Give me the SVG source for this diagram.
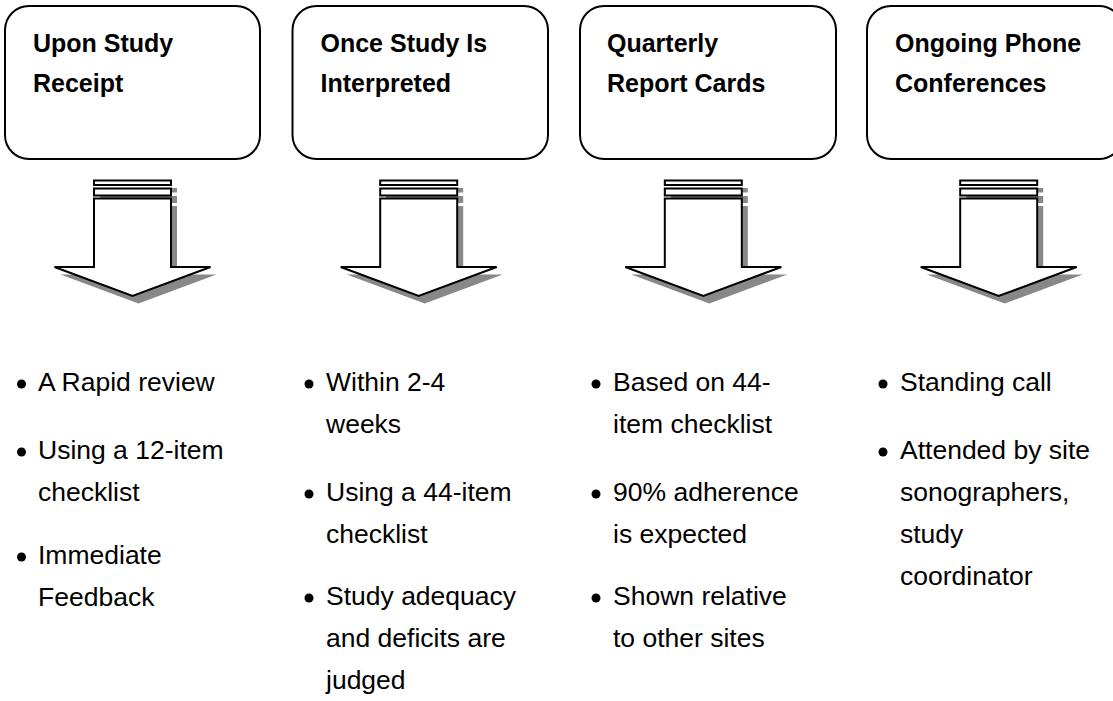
<svg xmlns="http://www.w3.org/2000/svg" width="1113" height="701" viewBox="0 0 1113 701">
<style>
.box{fill:#fff;stroke:#000;stroke-width:2}
.hd{font-family:"Liberation Sans",Arial,sans-serif;font-weight:bold;font-size:25px;fill:#000}
.bt{font-family:"Liberation Sans",Arial,sans-serif;font-size:26.5px;fill:#000}
.ar{fill:#fff;stroke:#000;stroke-width:2;stroke-linejoin:miter}
.sh{fill:#888}
</style>
<defs>
<filter id="soft" x="-10%" y="-10%" width="120%" height="130%">
<feGaussianBlur stdDeviation="0.7"/>
</filter>
<g id="arrowShape">
<rect x="-38.5" y="180.5" width="77" height="4.5"/>
<rect x="-38.5" y="188.5" width="77" height="7"/>
<polygon points="-38.5,198.5 38.5,198.5 38.5,267 78,267 0,296 -78,267 -38.5,267"/>
</g>
<g id="arrow">
<use href="#arrowShape" class="sh" filter="url(#soft)" transform="translate(6,7.5)"/>
<use href="#arrowShape" class="ar"/>
</g>
</defs>
<g id="node1">
<rect class="box" x="5" y="6" width="255" height="153" rx="24"/>
<text class="hd" x="33" y="52">Upon Study</text>
<text class="hd" x="33" y="92">Receipt</text>
</g>
<g id="node2">
<rect class="box" x="292.5" y="6" width="255.5" height="153" rx="24"/>
<text class="hd" x="320.5" y="52">Once Study Is</text>
<text class="hd" x="320.5" y="92">Interpreted</text>
</g>
<g id="node3">
<rect class="box" x="580" y="6" width="256" height="153" rx="24"/>
<text class="hd" x="607" y="52">Quarterly</text>
<text class="hd" x="607" y="92">Report Cards</text>
</g>
<g id="node4">
<rect class="box" x="867" y="6" width="256" height="153" rx="24"/>
<text class="hd" x="895" y="52">Ongoing Phone</text>
<text class="hd" x="895" y="92">Conferences</text>
</g>
<g id="connectors">
<use href="#arrow" transform="translate(132.5,0)"/>
<use href="#arrow" transform="translate(418.7,0)"/>
<use href="#arrow" transform="translate(703.3,0)"/>
<use href="#arrow" transform="translate(998.7,0)"/>
</g>
<g id="list1">
<circle cx="21.5" cy="384" r="4.5"/>
<text class="bt" x="38" y="391">A Rapid review</text>
<circle cx="21.5" cy="452" r="4.5"/>
<text class="bt" x="38" y="459">Using a 12-item</text>
<text class="bt" x="38" y="501">checklist</text>
<circle cx="21.5" cy="557" r="4.5"/>
<text class="bt" x="38" y="564">Immediate</text>
<text class="bt" x="38" y="606">Feedback</text>
</g>
<g id="list2">
<circle cx="309" cy="384" r="4.5"/>
<text class="bt" x="326" y="391">Within 2-4</text>
<text class="bt" x="326" y="433">weeks</text>
<circle cx="309" cy="494" r="4.5"/>
<text class="bt" x="326" y="501">Using a 44-item</text>
<text class="bt" x="326" y="543">checklist</text>
<circle cx="309" cy="598" r="4.5"/>
<text class="bt" x="326" y="605">Study adequacy</text>
<text class="bt" x="326" y="647">and deficits are</text>
<text class="bt" x="326" y="689">judged</text>
</g>
<g id="list3">
<circle cx="596" cy="384" r="4.5"/>
<text class="bt" x="613" y="391">Based on 44-</text>
<text class="bt" x="613" y="433">item checklist</text>
<circle cx="596" cy="494" r="4.5"/>
<text class="bt" x="613" y="501">90% adherence</text>
<text class="bt" x="613" y="543">is expected</text>
<circle cx="596" cy="598" r="4.5"/>
<text class="bt" x="613" y="605">Shown relative</text>
<text class="bt" x="613" y="647">to other sites</text>
</g>
<g id="list4">
<circle cx="883" cy="384" r="4.5"/>
<text class="bt" x="900" y="391">Standing call</text>
<circle cx="883" cy="452" r="4.5"/>
<text class="bt" x="900" y="459">Attended by site</text>
<text class="bt" x="900" y="501">sonographers,</text>
<text class="bt" x="900" y="543">study</text>
<text class="bt" x="900" y="585">coordinator</text>
</g>
</svg>
